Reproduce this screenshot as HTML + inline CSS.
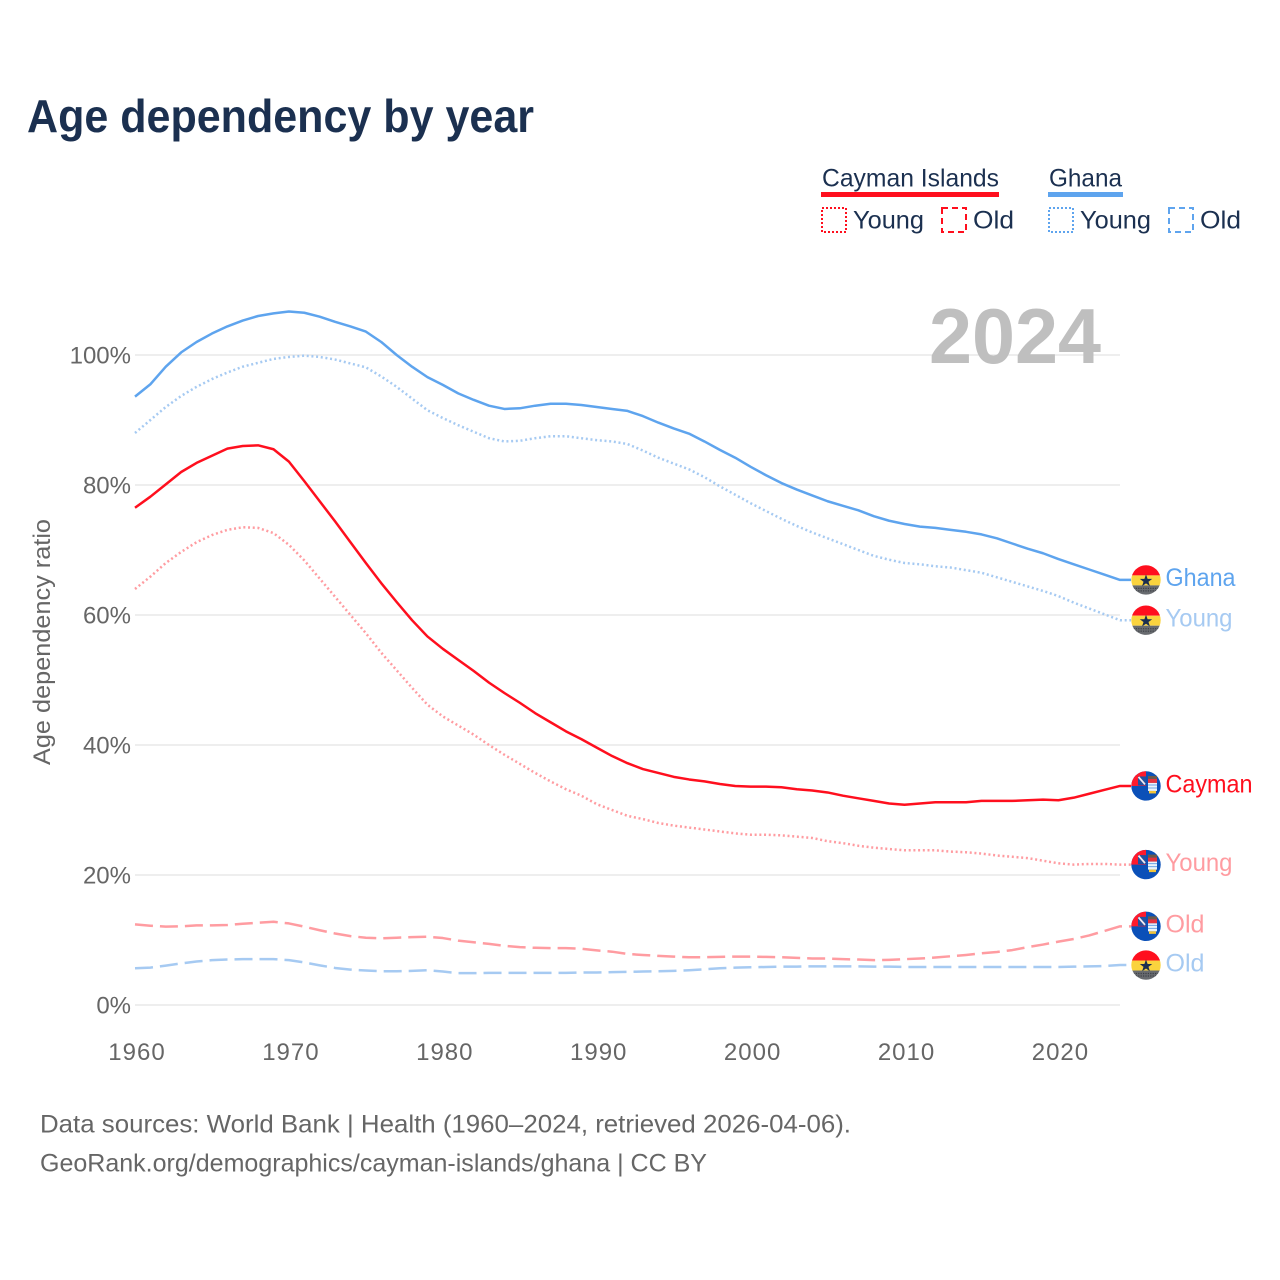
<!DOCTYPE html>
<html lang="en">
<head>
<meta charset="utf-8">
<title>Age dependency by year</title>
<style>
html,body{margin:0;padding:0;background:#fff;}
svg{display:block;font-family:"Liberation Sans",sans-serif;}
.tick{font-size:24px;fill:#666;}
.legend{font-size:25px;fill:#1b3050;}
.foot{font-size:25px;fill:#666;}
.end{font-size:25px;}
</style>
</head>
<body>
<svg id="chart" xmlns="http://www.w3.org/2000/svg" width="1280" height="1280" viewBox="0 0 1280 1280">
  <defs>
    <clipPath id="flag-clip"><circle cx="0" cy="0" r="14.7"/></clipPath>
    <g id="flag-ghana" clip-path="url(#flag-clip)">
      <rect x="-15" y="-15" width="30" height="10.5" fill="#ff0f1e"/>
      <rect x="-15" y="-4.5" width="30" height="10" fill="#fad33e"/>
      <rect x="-15" y="5.5" width="30" height="10" fill="#686b6f"/>
      <line x1="-15" y1="8.5" x2="15" y2="8.5" stroke="#3c3f45" stroke-width="1.2" stroke-dasharray="1.2 1.2"/>
      <line x1="-15" y1="11" x2="15" y2="11" stroke="#3c3f45" stroke-width="1.2" stroke-dasharray="1.2 1.2"/>
      <polygon points="0,-5.5 1.6,-1 6.2,-1 2.5,1.8 3.9,6.2 0,3.5 -3.9,6.2 -2.5,1.8 -6.2,-1 -1.6,-1" fill="#1b2f50"/>
    </g>
    <g id="flag-cayman" clip-path="url(#flag-clip)">
      <rect x="-15" y="-15" width="30" height="30" fill="#0b50b8"/>
      <rect x="-15" y="-15" width="15" height="15" fill="#ff1a2c"/>
      <rect x="-8" y="-9.5" width="8" height="9" fill="#23509f"/>
      <line x1="-7.5" y1="-9" x2="-1" y2="-1.5" stroke="#f4e9ee" stroke-width="1.8"/>
      <rect x="2" y="-10" width="9" height="3" fill="#6b5a4a"/>
      <rect x="2" y="-7" width="9" height="4" fill="#e5333f"/>
      <rect x="2" y="-3" width="9" height="8" fill="#eaf3fb"/>
      <line x1="2" y1="-1" x2="11" y2="-1" stroke="#6da5e4" stroke-width="1"/>
      <line x1="2" y1="2" x2="11" y2="2" stroke="#6da5e4" stroke-width="1"/>
      <rect x="3" y="5" width="7" height="2.5" fill="#f2c53a"/>
    </g>
  </defs>

  <rect x="0" y="0" width="1280" height="1280" fill="#fff"/>

  <text x="27" y="132" font-size="46" font-weight="700" fill="#1b3050" textLength="507" lengthAdjust="spacingAndGlyphs">Age dependency by year</text>

  <g>
    <g>
      <text class="legend" x="822" y="186.5" textLength="177" lengthAdjust="spacingAndGlyphs">Cayman Islands</text>
      <rect x="821" y="192" width="178" height="5" fill="#ff0f1e"/>
      <rect x="822" y="208" width="24" height="24" fill="none" stroke="#ff0f1e" stroke-width="2" stroke-dasharray="2 2"/>
      <text class="legend" x="853" y="228.5" textLength="71" lengthAdjust="spacingAndGlyphs">Young</text>
      <rect x="942" y="208" width="24" height="24" fill="none" stroke="#ff0f1e" stroke-width="2" stroke-dasharray="6 4"/>
      <text class="legend" x="973" y="228.5" textLength="41" lengthAdjust="spacingAndGlyphs">Old</text>
    </g>
    <g>
      <text class="legend" x="1049" y="186.5" textLength="73" lengthAdjust="spacingAndGlyphs">Ghana</text>
      <rect x="1048" y="192" width="75" height="5" fill="#5ea4ee"/>
      <rect x="1049" y="208" width="24" height="24" fill="none" stroke="#5ea4ee" stroke-width="2" stroke-dasharray="2 2"/>
      <text class="legend" x="1080" y="228.5" textLength="71" lengthAdjust="spacingAndGlyphs">Young</text>
      <rect x="1169" y="208" width="24" height="24" fill="none" stroke="#5ea4ee" stroke-width="2" stroke-dasharray="6 4"/>
      <text class="legend" x="1200" y="228.5" textLength="41" lengthAdjust="spacingAndGlyphs">Old</text>
    </g>
  </g>

  <g id="grid"></g>
  <text x="929" y="363" font-size="78" font-weight="700" fill="#bfbfbf" textLength="172" lengthAdjust="spacingAndGlyphs">2024</text>
  <g id="y-ticks"></g>
  <g id="x-ticks"></g>
  <text transform="translate(50 642) rotate(-90)" text-anchor="middle" font-size="24" fill="#666" textLength="246" lengthAdjust="spacingAndGlyphs">Age dependency ratio</text>
  <g id="series"></g>
  <g id="ends"></g>

  <text class="foot" x="40" y="1132.5" textLength="811" lengthAdjust="spacingAndGlyphs">Data sources: World Bank | Health (1960–2024, retrieved 2026-04-06).</text>
  <text class="foot" x="40" y="1171.5" textLength="667" lengthAdjust="spacingAndGlyphs">GeoRank.org/demographics/cayman-islands/ghana | CC BY</text>
</svg>

<script>
const years = [1960,1961,1962,1963,1964,1965,1966,1967,1968,1969,1970,1971,1972,1973,1974,1975,1976,1977,1978,1979,1980,1981,1982,1983,1984,1985,1986,1987,1988,1989,1990,1991,1992,1993,1994,1995,1996,1997,1998,1999,2000,2001,2002,2003,2004,2005,2006,2007,2008,2009,2010,2011,2012,2013,2014,2015,2016,2017,2018,2019,2020,2021,2022,2023,2024];
const xTickLabels = [1960,1970,1980,1990,2000,2010,2020];
const yTickLabels = [0,20,40,60,80,100];

const ghanaTotal = [93.6,95.5,98.2,100.4,102,103.3,104.4,105.3,106,106.4,106.7,106.5,105.9,105.1,104.4,103.6,102,100,98.2,96.6,95.4,94.1,93.1,92.2,91.7,91.8,92.2,92.5,92.5,92.3,92,91.7,91.4,90.6,89.6,88.7,87.9,86.7,85.4,84.2,82.8,81.5,80.3,79.3,78.4,77.5,76.8,76.1,75.2,74.5,74,73.6,73.4,73.1,72.8,72.4,71.8,71,70.2,69.5,68.6,67.8,67,66.2,65.4];
const ghanaYoung = [88,90,92,93.7,95.1,96.3,97.3,98.2,98.8,99.4,99.7,99.9,99.7,99.3,98.7,98.1,96.7,95.1,93.3,91.5,90.3,89.2,88.2,87.2,86.7,86.8,87.2,87.5,87.5,87.2,86.9,86.7,86.3,85.3,84.2,83.3,82.4,81.2,79.8,78.5,77.2,76,74.8,73.7,72.7,71.8,70.9,70,69.1,68.5,68,67.8,67.5,67.3,66.9,66.5,65.8,65.1,64.4,63.7,62.9,61.9,61,60.1,59.2];
const ghanaOld = [5.65,5.75,6.05,6.4,6.7,6.9,7,7.05,7.05,7.05,6.9,6.55,6.1,5.7,5.45,5.3,5.2,5.2,5.25,5.35,5.15,4.9,4.9,4.95,4.95,4.95,4.95,4.95,4.95,5,5,5.05,5.1,5.15,5.2,5.25,5.35,5.5,5.65,5.75,5.8,5.85,5.9,5.9,5.95,5.95,5.95,5.95,5.9,5.9,5.85,5.85,5.85,5.85,5.85,5.85,5.85,5.85,5.85,5.85,5.85,5.9,5.95,6,6.15];
const caymanTotal = [76.5,78.2,80.1,82,83.4,84.5,85.6,86,86.1,85.5,83.6,80.6,77.5,74.4,71.2,68,64.9,62,59.2,56.7,54.8,53.1,51.4,49.6,48,46.5,44.9,43.5,42.1,40.9,39.6,38.3,37.2,36.3,35.7,35.1,34.7,34.4,34,33.7,33.6,33.6,33.5,33.2,33,32.7,32.2,31.8,31.4,31,30.8,31,31.2,31.2,31.2,31.4,31.4,31.4,31.5,31.6,31.5,31.9,32.5,33.1,33.7];
const caymanYoung = [64,65.9,68,69.7,71.2,72.3,73.1,73.5,73.4,72.6,70.8,68.4,65.6,62.8,60,57.2,54.2,51.5,48.8,46.2,44.4,43,41.6,40,38.5,37.1,35.7,34.4,33.2,32.2,30.9,30,29.1,28.6,28,27.6,27.3,27,26.7,26.4,26.2,26.2,26.1,25.9,25.7,25.2,24.9,24.5,24.2,24,23.8,23.8,23.8,23.6,23.5,23.3,23,22.8,22.6,22.2,21.8,21.6,21.7,21.7,21.6];
const caymanOld = [12.4,12.2,12.05,12.1,12.25,12.25,12.3,12.5,12.65,12.8,12.55,12.05,11.5,11,10.6,10.35,10.25,10.35,10.45,10.5,10.3,9.9,9.65,9.4,9.1,8.9,8.8,8.75,8.75,8.65,8.4,8.2,7.85,7.7,7.55,7.45,7.35,7.35,7.4,7.45,7.45,7.4,7.35,7.25,7.15,7.15,7.05,7,6.9,6.95,7.05,7.15,7.3,7.5,7.7,7.95,8.15,8.45,8.9,9.3,9.75,10.15,10.7,11.4,12.1];

const svgNS = 'http://www.w3.org/2000/svg';
const X = function (year) { return 135 + (year - 1960) * (1120 - 135) / 64; };
const Y = function (value) { return 1005 - value * 6.5; };
const endLabelWidth = function (text) {
  if (text === 'Cayman') return 87;
  if (text === 'Old') return 39;
  if (text === 'Young') return 67;
  return 70;
};
const gridLayer = document.getElementById('grid');
const yTickLayer = document.getElementById('y-ticks');
const xTickLayer = document.getElementById('x-ticks');
const seriesLayer = document.getElementById('series');
const endLayer = document.getElementById('ends');

yTickLabels.forEach(function (v) {
  const line = document.createElementNS(svgNS, 'line');
  
  
  line.setAttribute('x1', X(1960));
  line.setAttribute('x2', X(2024));
  line.setAttribute('y1', Y(v));
  line.setAttribute('y2', Y(v));
  line.setAttribute('stroke', '#e4e4e4');
  line.setAttribute('stroke-width', '1.3');
  gridLayer.appendChild(line);

  const label = document.createElementNS(svgNS, 'text');
  
  
  label.setAttribute('class', 'tick');
  label.setAttribute('x', 131);
  label.setAttribute('y', Y(v) + 8.5);
  label.setAttribute('text-anchor', 'end');
  label.textContent = v + '%';
  yTickLayer.appendChild(label);
});

xTickLabels.forEach(function (yr) {
  const label = document.createElementNS(svgNS, 'text');
  
  
  label.setAttribute('class', 'tick');
  label.setAttribute('x', X(yr) + 2);
  label.setAttribute('y', 1060);
  label.setAttribute('text-anchor', 'middle');
  label.setAttribute('letter-spacing', '1');
  label.textContent = yr;
  xTickLayer.appendChild(label);
});

function addSeries(name, values, color, dash, flagId, endText) {
  const last = values[values.length - 1];
  const pts = values.map(function (v, i) { return X(years[i]).toFixed(2) + ',' + Y(v).toFixed(2); });
  pts.push((X(2024) + 11) + ',' + Y(last).toFixed(2));

  const line = document.createElementNS(svgNS, 'polyline');
  
  
  line.setAttribute('points', pts.join(' '));
  line.setAttribute('fill', 'none');
  line.setAttribute('stroke', color);
  line.setAttribute('stroke-width', '2.5');
  line.setAttribute('stroke-linejoin', 'round');
  if (dash) line.setAttribute('stroke-dasharray', dash);
  seriesLayer.appendChild(line);

  const flag = document.createElementNS(svgNS, 'use');
  
  
  flag.setAttribute('href', '#' + flagId);
  flag.setAttribute('transform', 'translate(1146 ' + Y(last).toFixed(2) + ')');
  endLayer.appendChild(flag);

  const label = document.createElementNS(svgNS, 'text');
  
  
  label.setAttribute('class', 'end');
  label.setAttribute('x', 1165.5);
  label.setAttribute('y', (Y(last) + 6.3).toFixed(2));
  label.setAttribute('fill', color);
  label.setAttribute('textLength', endLabelWidth(endText));
  label.setAttribute('lengthAdjust', 'spacingAndGlyphs');
  label.textContent = endText;
  endLayer.appendChild(label);
}

addSeries('ghana-old', ghanaOld, '#a6caf2', '18 7', 'flag-ghana', 'Old');
addSeries('cayman-old', caymanOld, '#ff9ca1', '18 7', 'flag-cayman', 'Old');
addSeries('cayman-young', caymanYoung, '#ff9ca1', '2 2.7', 'flag-cayman', 'Young');
addSeries('ghana-young', ghanaYoung, '#a6caf2', '2 2.7', 'flag-ghana', 'Young');
addSeries('cayman-total', caymanTotal, '#ff0f1e', null, 'flag-cayman', 'Cayman');
addSeries('ghana-total', ghanaTotal, '#5ea4ee', null, 'flag-ghana', 'Ghana');
</script>
</body>
</html>
